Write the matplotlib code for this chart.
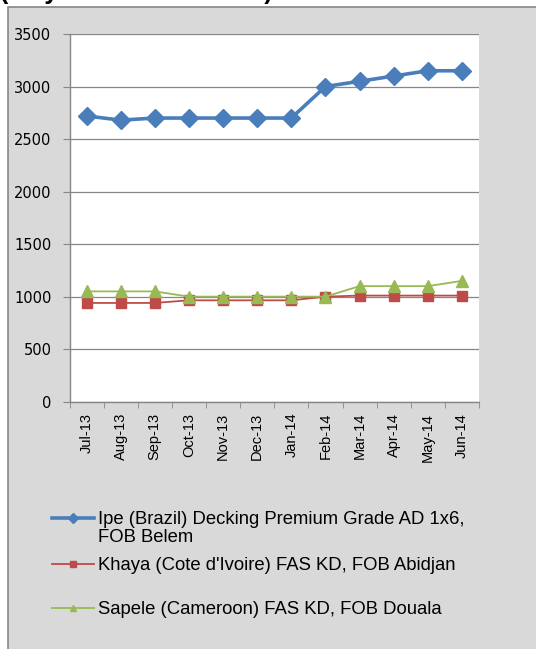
import matplotlib
matplotlib.use('Agg')
import matplotlib.pyplot as plt
from matplotlib.patches import Rectangle

months = ['Jul-13', 'Aug-13', 'Sep-13', 'Oct-13', 'Nov-13', 'Dec-13',
          'Jan-14', 'Feb-14', 'Mar-14', 'Apr-14', 'May-14', 'Jun-14']
ipe = [2720, 2680, 2700, 2700, 2700, 2700, 2700, 3000, 3050, 3100, 3150, 3150]
khaya = [940, 940, 940, 965, 965, 965, 965, 1000, 1010, 1010, 1010, 1010]
sapele = [1050, 1050, 1050, 1000, 1000, 1000, 1000, 1000, 1100, 1100, 1100, 1150]

label_ipe = 'Ipe (Brazil) Decking Premium Grade AD 1x6,'
label_ipe2 = 'FOB Belem'
label_khaya = "Khaya (Cote d'Ivoire) FAS KD, FOB Abidjan"
label_sapele = 'Sapele (Cameroon) FAS KD, FOB Douala'

W, H = 536, 649
fig = plt.figure(figsize=(W / 100, H / 100), dpi=100)
fig.patch.set_facecolor('white')

# gray chart area, cut off by the image edges
fig.patches.append(Rectangle((8 / W, -0.1), 1.2, 1.1 - 7 / H, transform=fig.transFigure,
                             facecolor='#d9d9d9', edgecolor='#868686', linewidth=1.2,
                             zorder=-5))

# clipped title at the very top
fig.text(0 / W, 1 + 1.5 / H, '(July 2013 - June 2014)', fontsize=18, fontweight='bold',
         family='Liberation Sans', va='baseline', ha='left')

ax = fig.add_axes([69.5 / W, 1 - 401.7 / H, 409.5 / W, (401.7 - 34) / H])
ax.set_facecolor('white')

x = range(len(months))
l1, = ax.plot(x, ipe, color='#4a7ebb', lw=2.6, marker='D', ms=9, zorder=3)
l2, = ax.plot(x, khaya, color='#be4b48', lw=1.3, marker='s', ms=7, zorder=3)
l3, = ax.plot(x, sapele, color='#98b954', lw=1.3, marker='^', ms=8, zorder=3)

ax.set_xlim(-0.5, len(months) - 0.5)
ax.set_ylim(0, 3500)
ax.set_yticks(range(0, 3501, 500))
ax.yaxis.grid(True, color='#868686', lw=0.9)
ax.set_axisbelow(True)
for s in ['top', 'right']:
    ax.spines[s].set_visible(False)
for s in ['left', 'bottom']:
    ax.spines[s].set_color('#868686')
    ax.spines[s].set_linewidth(1.0)

ax.set_xticks(list(x))
ax.set_xticklabels(months, rotation=90, family='Liberation Sans', fontsize=10.5)
ax.set_xticks([i - 0.5 for i in range(len(months) + 1)], minor=True)
ax.tick_params(axis='x', which='major', length=0, pad=8)
ax.tick_params(axis='x', which='minor', length=4, color='#868686', direction='out')
ax.tick_params(axis='y', length=5, color='#868686', pad=8, labelsize=10.5)
for t in ax.get_yticklabels():
    t.set_family('DejaVu Sans')

leg_kw = dict(loc='center left', frameon=False, borderpad=0, borderaxespad=0,
              handlelength=2.3, handletextpad=0.2, markerscale=0.6,
              prop={'family': 'Liberation Sans', 'size': 13.3})
fig.legend([l1], [label_ipe], bbox_to_anchor=(52 / W, 1 - 520 / H), **leg_kw)
fig.legend([l2], [label_khaya], bbox_to_anchor=(52 / W, 1 - 566 / H), **leg_kw)
fig.legend([l3], [label_sapele], bbox_to_anchor=(52 / W, 1 - 610 / H), **leg_kw)
fig.text(98 / W, 1 - 538 / H, label_ipe2, family='Liberation Sans', fontsize=13.3,
         va='center', ha='left')

fig.savefig('out.png', dpi=100)
